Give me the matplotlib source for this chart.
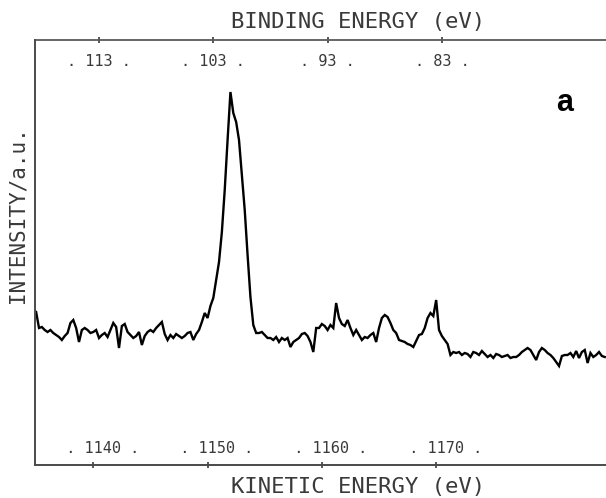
import numpy as np
import matplotlib
matplotlib.use("Agg")
import matplotlib.pyplot as plt

# ---- data ----
KE_START = 1135.0   # eV, first kinetic-energy channel
KE_STEP = 0.25      # eV per channel
PHOTON_ENERGY = 1253.5  # eV (BE = hv - KE)

intensity = [
    153, 137, 138, 135, 133, 135, 132, 130, 128, 125,
    129, 132, 142, 145, 137, 123, 135, 137, 135, 132,
    133, 135, 127, 130, 132, 128, 135, 142, 138, 117,
    139, 141, 133, 130, 127, 129, 133, 120, 129, 133,
    135, 133, 137, 140, 143, 131, 125, 130, 127, 131,
    129, 127, 129, 132, 133, 125, 131, 135, 143, 152,
    147, 159, 167, 185, 203, 233, 275, 325, 373, 352,
    343, 325, 290, 255, 210, 168, 140, 132, 132, 133,
    130, 127, 127, 125, 128, 123, 127, 125, 127, 118,
    123, 125, 127, 131, 132, 129, 123, 113, 137, 137,
    141, 139, 135, 140, 137, 162, 147, 141, 139, 145,
    137, 130, 135, 130, 125, 128, 127, 130, 132, 123,
    137, 147, 150, 148, 142, 135, 132, 125, 124, 123,
    121, 120, 118, 124, 130, 131, 137, 147, 152, 149,
    165, 135, 129, 125, 121, 110, 113, 112, 113, 110,
    112, 111, 108, 113, 112, 110, 114, 111, 108, 110,
    107, 111, 110, 108, 109, 110, 107, 108, 108, 110,
    113, 115, 117, 115, 110, 105, 113, 117, 115, 112,
    110, 107, 103, 99, 109, 110, 110, 112, 108, 114,
    107, 113, 115, 102, 112, 108, 110, 113, 109, 108,
]
kinetic_energy = KE_START + KE_STEP * np.arange(len(intensity))

ke_ticks = [1140, 1150, 1160, 1170]
ke_labels = ["  . 1140 .", "  . 1150 .", "  . 1160 .", "  . 1170 ."]
be_ticks = [113, 103, 93, 83]
be_labels = [". 113 .", ". 103 .", ". 93 .", ". 83 ."]

# ---- figure ----
W, H, DPI = 606, 498, 100
fig = plt.figure(figsize=(W / DPI, H / DPI), dpi=DPI)
ax = fig.add_axes([35 / W, 33 / H, 571 / W, 425 / H])

ax.plot(kinetic_energy, intensity, color="black", lw=1.7, solid_joinstyle="miter")
ax.set_xlim(1134.9, 1184.86)
ax.set_ylim(0, 425)

mono = "DejaVu Sans Mono"
txt_col = "#3a3a3a"
spine_col = "#4a4a4a"

for s in ["left", "bottom"]:
    ax.spines[s].set_color(spine_col)
    ax.spines[s].set_linewidth(1.4)
ax.spines["right"].set_visible(False)
ax.spines["top"].set_visible(False)

ax.set_yticks([])
ax.set_xticks(ke_ticks, ke_labels, fontfamily=mono, fontsize=11, color=txt_col)
L = 5
ax.tick_params(axis="x", direction="inout", length=L, width=1.3, color=spine_col,
               pad=-17.3 - L / 2)

sec = ax.secondary_xaxis("top", functions=(lambda k: PHOTON_ENERGY - k,
                                            lambda b: PHOTON_ENERGY - b))
sec.spines["top"].set_color("#5a5a5a")
sec.spines["top"].set_linewidth(1.3)
sec.set_xticks(be_ticks, be_labels, fontfamily=mono, fontsize=11, color=txt_col)
sec.tick_params(axis="x", direction="inout", length=L, width=1.3, color=spine_col,
                pad=-20.9 - L / 2)

ax.set_xlabel("KINETIC ENERGY (eV)", fontfamily=mono, fontsize=16, color=txt_col)
ax.xaxis.set_label_coords((358 - 35) / 571, -22 / 425)
ax.xaxis.label.set_va("center")

ax.text((358 - 35) / 571, 443 / 425, "BINDING ENERGY (eV)", transform=ax.transAxes,
        fontfamily=mono, fontsize=16, color=txt_col, ha="center", va="center")

ax.set_ylabel("INTENSITY/a.u.", fontfamily=mono, fontsize=15, color=txt_col)
ax.yaxis.set_label_coords((18 - 35) / 571, (498 - 215 - 33) / 425)
ax.yaxis.label.set_va("center")

ax.text((565 - 35) / 571, (498 - 103 - 33) / 425, "a", transform=ax.transAxes,
        fontfamily="Liberation Sans", fontweight="bold", fontsize=22,
        ha="center", va="center", color="black")

fig.savefig("out.png", dpi=DPI)
